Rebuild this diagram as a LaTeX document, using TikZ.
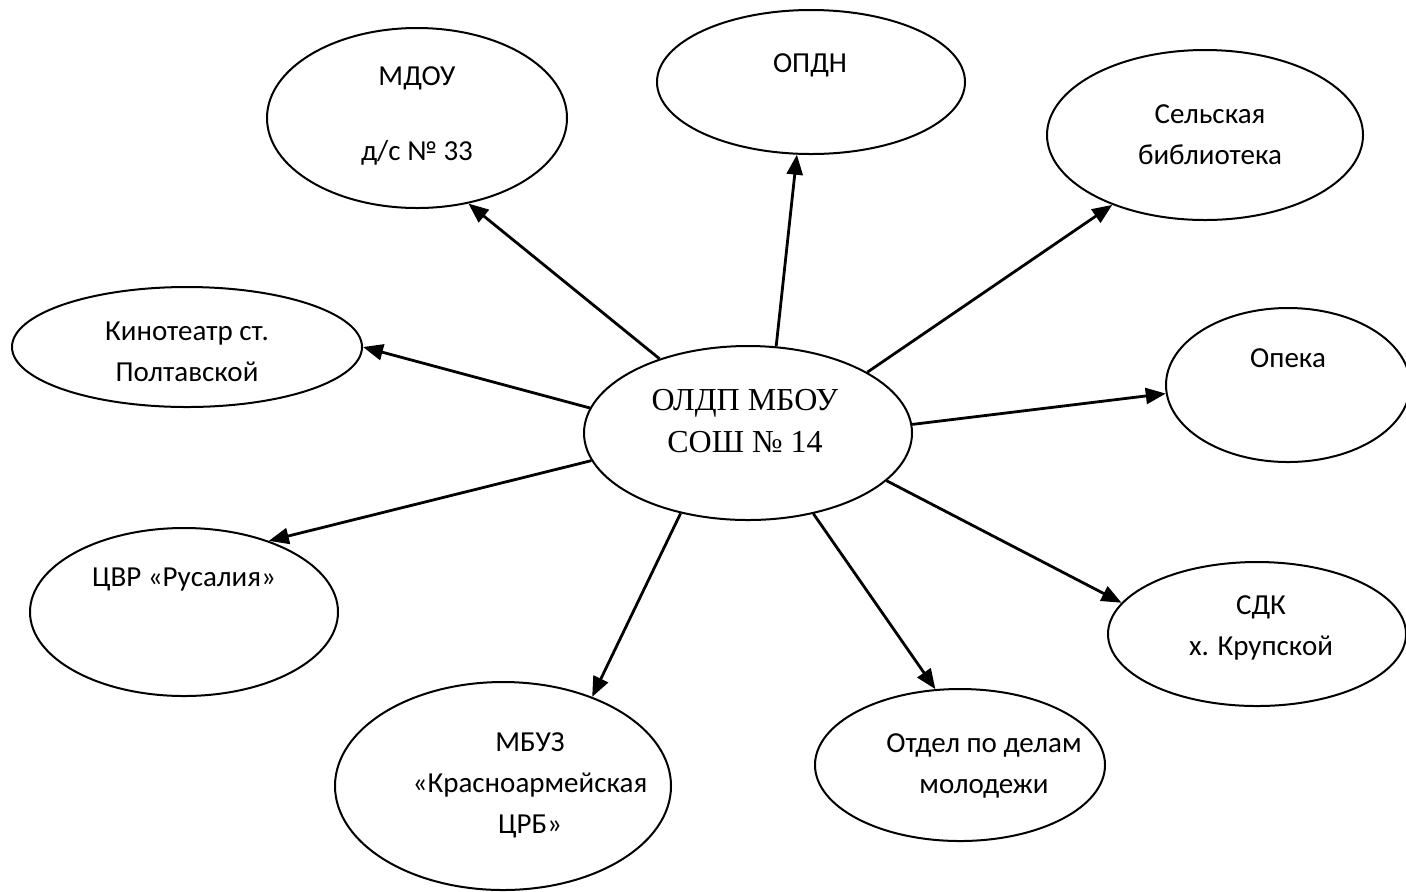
\documentclass[tikz,border=0pt]{standalone}
\usepackage{fontspec}
\setmainfont{Carlito}
\newfontfamily\timesfont{Liberation Serif}
\usetikzlibrary{shapes.geometric,arrows.meta}

\begin{document}
\begin{tikzpicture}
  [x=0.5pt,y=-0.5pt,
   oval/.style={ellipse, draw=black, line width=1pt, inner sep=0pt},
   lbl/.style={align=center, inner sep=0pt, font=\fontsize{14.5}{20.5}\selectfont},
   link/.style={-{Triangle[length=10pt,width=8pt]}, line width=1.4pt}]
  \useasboundingbox (0,0) rectangle (1406,891);

  % ellipses
  \node[oval, minimum width=164pt, minimum height=87pt] (oldp) at (748,433) {};
  \node[oval, minimum width=150pt, minimum height=90pt] (mdou) at (417,118) {};
  \node[oval, minimum width=154pt, minimum height=72pt] (opdn) at (811,82) {};
  \node[oval, minimum width=158pt, minimum height=85pt] (bibl) at (1205,135) {};
  \node[oval, minimum width=175pt, minimum height=60pt] (kino) at (187,347) {};
  \node[oval, minimum width=122pt, minimum height=77pt] (opeka) at (1288,385) {};
  \node[oval, minimum width=154pt, minimum height=84pt] (cvr) at (184,612) {};
  \node[oval, minimum width=149pt, minimum height=72pt] (sdk) at (1257,634) {};
  \node[oval, minimum width=145pt, minimum height=76pt] (otdel) at (960,765) {};
  \node[oval, minimum width=168pt, minimum height=104pt] (mbuz) at (503,786) {};

  % texts
  \node[lbl, font=\timesfont\fontsize{16}{21}\selectfont] (oldp-t) at (745,421) {ОЛДП МБОУ\\СОШ № 14};
  \node[lbl] (mdou-t) at (417,116) {МДОУ\\[17pt]д/с № 33};
  \node[lbl] (opdn-t) at (810,65) {ОПДН};
  \node[lbl] (bibl-t) at (1210,135) {Сельская\\библиотека};
  \node[lbl] (kino-t) at (187,352) {Кинотеатр ст.\\Полтавской};
  \node[lbl] (opeka-t) at (1288,358) {Опека};
  \node[lbl] (cvr-t) at (184,580) {ЦВР «Русалия»};
  \node[lbl] (sdk-t) at (1261,628) {СДК\\х. Крупской};
  \node[lbl] (otdel-t) at (984,766) {Отдел по делам\\молодежи};
  \node[lbl] (mbuz-t) at (530,785) {МБУЗ\\«Красноармейская\\ЦРБ»};

  \foreach \from/\to in {oldp.140/mdou.-59, oldp.72/opdn.-101, oldp.27/bibl.217,
      oldp.171/kino.0, oldp.3/opeka.184, oldp.190/cvr.40,
      oldp.-19/sdk.167, oldp.-51/otdel.108, oldp.230/mbuz.45}
    \draw[link] (\from) -- (\to);
\end{tikzpicture}
\end{document}
